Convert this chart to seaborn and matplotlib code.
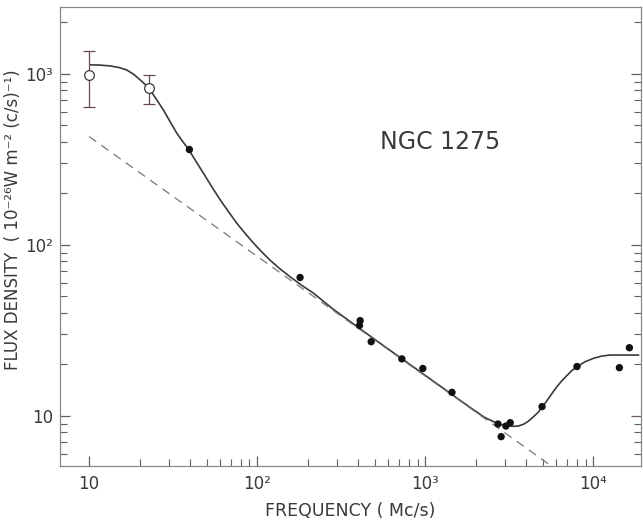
import numpy as np
import pandas as pd
import matplotlib
matplotlib.use("Agg")
import matplotlib.pyplot as plt
import matplotlib.ticker as mticker
import seaborn as sns

sns.set_style("ticks")
plt.rcParams['font.family'] = ['DejaVu Sans']

# measured flux densities (filled dots)
freq = [39.5, 180, 406, 410, 477, 726, 968, 1443, 2710, 2830, 3020, 3205, 4955, 8000, 14300, 16400]
flux = [361, 64.4, 33.7, 36.0, 27.1, 21.5, 18.9, 13.7, 8.94, 7.54, 8.7, 9.1, 11.3, 19.4, 19.1, 25.0]

# low frequency points with error bars (open circles)
freq_open = [10, 22.8]
flux_open = [987, 832]
err_lo = [644, 670]
err_hi = [1370, 987]

# fitted spectrum (log10 nu, log10 S)
curve_lognu = [1.006, 1.06, 1.125, 1.18, 1.224, 1.265, 1.304, 1.335, 1.363, 1.40, 1.442, 1.48,
               1.522, 1.555, 1.591, 1.635, 1.680, 1.730, 1.780, 1.830, 1.879, 1.930, 1.978,
               2.03, 2.077, 2.135, 2.196, 2.265, 2.335, 2.45, 2.7, 3.0, 3.25, 3.35,
               3.40, 3.436, 3.48, 3.526, 3.555, 3.585, 3.61, 3.64, 3.67, 3.695, 3.72, 3.74,
               3.762, 3.784, 3.81, 3.84, 3.87, 3.903, 3.95, 4.002, 4.05, 4.101, 4.27]
curve_logs = [3.053, 3.052, 3.047, 3.037, 3.023, 2.998, 2.965, 2.937, 2.906, 2.852, 2.789, 2.724,
              2.653, 2.607, 2.560, 2.490, 2.419, 2.340, 2.263, 2.193, 2.126, 2.065, 2.010,
              1.956, 1.91, 1.860, 1.813, 1.763, 1.717, 1.625, 1.446, 1.236, 1.060, 0.992,
              0.968, 0.953, 0.942, 0.938, 0.940, 0.950, 0.965, 0.990, 1.018, 1.049, 1.082, 1.110,
              1.141, 1.170, 1.201, 1.232, 1.262, 1.287, 1.315, 1.336, 1.349, 1.355, 1.355]

# power law component (dashed)
pl_freq = [10, 5600]
pl_flux = [430, 5.1]

x_ticks = [10, 100, 1000, 10000]
x_labels = ['10', '10\u00b2', '10\u00b3', '10\u2074']
y_ticks = [10, 100, 1000]
y_labels = ['10', '10\u00b2', '10\u00b3']

curve = pd.DataFrame({'nu': 10 ** np.array(curve_lognu), 'S': 10 ** np.array(curve_logs)})
pts = pd.DataFrame({'nu': freq, 'S': flux})
pl = pd.DataFrame({'nu': pl_freq, 'S': pl_flux})

ink = '#3a3a3a'
fig = plt.figure(figsize=(6.43, 5.25), dpi=100)
ax = fig.add_axes([0.0933, 0.113, 0.904, 0.874])

sns.lineplot(data=curve, x='nu', y='S', sort=False, color=ink, lw=1.2, ax=ax)
sns.lineplot(data=pl, x='nu', y='S', color='#777777', lw=0.9, ax=ax,
             linestyle=(0, (7, 5)))
sns.scatterplot(data=pts, x='nu', y='S', color='#111111', s=28, edgecolor='none', ax=ax, zorder=4)

yerr = [np.array(flux_open) - np.array(err_lo), np.array(err_hi) - np.array(flux_open)]
ax.errorbar(freq_open, flux_open, yerr=yerr, fmt='o', mfc='white', mec=ink, ms=7,
            mew=0.9, ecolor='#6a4a50', elinewidth=0.9, capsize=4, capthick=0.9, zorder=5)

ax.set_xscale('log')
ax.set_yscale('log')
ax.set_xlim(6.71, 19300)
ax.set_ylim(5.1, 2470)

ax.set_xticks(x_ticks, x_labels)
ax.set_yticks(y_ticks, y_labels)
xminor = [m * 10 ** e for e in (1, 2, 3) for m in range(2, 10)]
ax.xaxis.set_minor_locator(mticker.FixedLocator(xminor))
ax.yaxis.set_minor_locator(mticker.LogLocator(subs=np.arange(2, 10)))
ax.xaxis.set_minor_formatter(mticker.NullFormatter())
ax.yaxis.set_minor_formatter(mticker.NullFormatter())
ax.tick_params(which='both', direction='in', right=True, color='#6a5a66', labelsize=12,
               labelcolor=ink)
ax.tick_params(axis='y', pad=5)
ax.tick_params(axis='x', pad=7)
ax.tick_params(which='major', length=7, width=0.9)
ax.tick_params(which='minor', length=5, width=0.8)
for s in ax.spines.values():
    s.set_color('#888888')
    s.set_linewidth(0.9)

ax.set_xlabel('FREQUENCY ( Mc/s)', fontsize=12.5, color=ink, labelpad=6)
ax.set_ylabel('FLUX DENSITY  ( 10\u207b\u00b2\u2076W m\u207b\u00b2 (c/s)\u207b\u00b9)',
              fontsize=12, color=ink)
ax.yaxis.set_label_coords(-0.066, 0.536)
ax.text(0.55, 0.69, 'NGC 1275', transform=ax.transAxes, fontsize=17, color=ink)

fig.savefig('out.png', dpi=100)
